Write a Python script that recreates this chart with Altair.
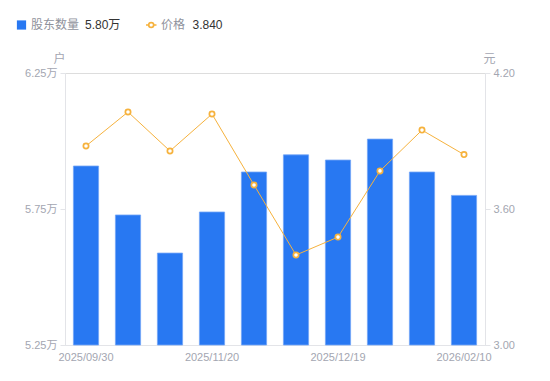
import altair as alt
import pandas as pd

dates = ["2025/09/30", "2025/10/20", "2025/10/31", "2025/11/20", "2025/11/28",
         "2025/12/10", "2025/12/19", "2026/01/09", "2026/01/30", "2026/02/10"]
holders = [5.908, 5.728, 5.588, 5.739, 5.886, 5.949, 5.930, 6.007, 5.886, 5.800]
prices = [3.878, 4.028, 3.856, 4.019, 3.706, 3.397, 3.476, 3.768, 3.948, 3.840]
shown_labels = ["2025/09/30", "2025/11/20", "2025/12/19", "2026/02/10"]

df = pd.DataFrame({"date": dates, "holders": holders, "price": prices})

FONT = "Liberation Sans, Noto Sans CJK SC"
GRAY = "#a3a6b1"
AXIS = "#e3e4e8"
BLUE = "#2878f2"
ORANGE = "#f6b23d"

label_test = " || ".join([f"datum.value == '{d}'" for d in shown_labels])

x = alt.X("date:N", sort=dates, title=None,
          scale=alt.Scale(paddingInner=0.4, paddingOuter=0.2),
          axis=alt.Axis(labelAngle=0, ticks=False, domainColor=AXIS, labelColor=GRAY,
                        labelFontSize=11, labelFont=FONT, labelPadding=6,
                        labelOverlap=False,
                        labelExpr=f"({label_test}) ? datum.value : ''"))

bars = alt.Chart(df).mark_bar(color=BLUE, stroke="#74a6f6", strokeWidth=0.8).encode(
    x=x,
    y=alt.Y("holders:Q", title="户",
            scale=alt.Scale(domain=[5.25, 6.25], zero=False, nice=False),
            axis=alt.Axis(values=[5.25, 5.75, 6.25], grid=False, domainColor=AXIS,
                          tickColor=AXIS, tickSize=5, labelColor=GRAY, labelFontSize=11,
                          labelFont=FONT, labelPadding=3,
                          labelExpr="format(datum.value, '.2f') + '万'",
                          titleAngle=0, titleX=-6, titleY=-15, titleAlign="center",
                          titleBaseline="middle", titleColor=GRAY, titleFont=FONT,
                          titleFontWeight="normal", titleFontSize=12)),
    y2=alt.datum(5.25),
)

price_y = alt.Y("price:Q", title="元",
                scale=alt.Scale(domain=[3.0, 4.2], zero=False, nice=False),
                axis=alt.Axis(orient="right", values=[3.0, 3.6, 4.2], format=".2f",
                              grid=False, domainColor=AXIS, tickColor=AXIS, tickSize=5,
                              labelColor=GRAY, labelFontSize=11, labelFont=FONT,
                              labelPadding=3, titleAngle=0, titleX=4, titleY=-15,
                              titleAlign="center", titleBaseline="middle",
                              titleColor=GRAY, titleFont=FONT, titleFontWeight="normal",
                              titleFontSize=12))

line = alt.Chart(df).mark_line(color=ORANGE, strokeWidth=1).encode(x=x, y=price_y)
pts = alt.Chart(df).mark_point(shape="circle", filled=True, fill="white", stroke=ORANGE,
                               strokeWidth=1.7, size=28, opacity=1).encode(x=x, y=price_y)

price_layer = alt.layer(line, pts)

LY = -48
# legend
leg_sq = alt.Chart(df.head(1)).mark_square(color=BLUE, size=85, cornerRadius=1.5,
                                           opacity=1).encode(
    x=alt.value(-43.5), y=alt.value(LY))
leg_t1 = alt.Chart(df.head(1)).mark_text(align="left", baseline="middle", font=FONT,
                                         fontSize=12, color="#8f929c").encode(
    x=alt.value(-34), y=alt.value(LY), text=alt.value("股东数量"))
leg_v1 = alt.Chart(df.head(1)).mark_text(align="left", baseline="middle", font=FONT,
                                         fontSize=12, color="#333333").encode(
    x=alt.value(20), y=alt.value(LY), text=alt.value(f"{holders[-1]:.2f}万"))
leg_ln = alt.Chart(df.head(1)).mark_rule(color=ORANGE, strokeWidth=1.5).encode(
    x=alt.value(81), x2=alt.value(91.5), y=alt.value(LY))
leg_pt = alt.Chart(df.head(1)).mark_point(shape="circle", filled=True, fill="white",
                                          stroke=ORANGE, strokeWidth=1.7, size=24,
                                          opacity=1).encode(x=alt.value(86.2), y=alt.value(LY))
leg_t2 = alt.Chart(df.head(1)).mark_text(align="left", baseline="middle", font=FONT,
                                         fontSize=12, color="#8f929c").encode(
    x=alt.value(96), y=alt.value(LY), text=alt.value("价格"))
leg_v2 = alt.Chart(df.head(1)).mark_text(align="left", baseline="middle", font=FONT,
                                         fontSize=12, color="#333333").encode(
    x=alt.value(127.5), y=alt.value(LY), text=alt.value(f"{prices[-1]:.3f}"))

main = alt.layer(bars, price_layer).resolve_scale(y="independent")
legend = alt.layer(leg_sq, leg_t1, leg_v1, leg_ln, leg_pt, leg_t2, leg_v2)

chart = alt.layer(main, legend).properties(
    width=420, height=272,
    autosize=alt.AutoSizeParams(type="none"),
    padding={"left": 57, "top": 65, "right": 57, "bottom": 28},
).configure_view(stroke=None).configure(font=FONT)

chart.save("out.html", embed_options={"renderer": "svg", "actions": False})
